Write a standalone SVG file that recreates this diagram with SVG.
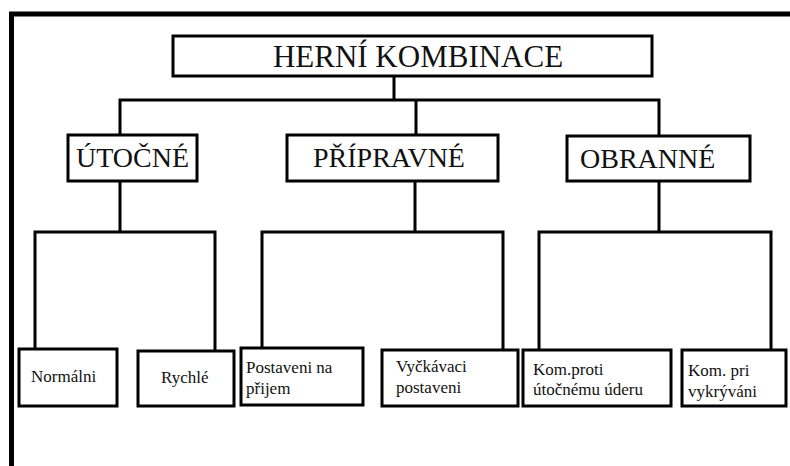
<svg xmlns="http://www.w3.org/2000/svg" width="790" height="466" viewBox="0 0 790 466">
<style>
.box{fill:#fff;stroke:#000;stroke-width:3}
.ln{fill:none;stroke:#000;stroke-width:3;stroke-linecap:square}
</style>
<rect width="790" height="466" fill="#fff"/>
<path d="M11.5 466 V14 H790" fill="none" stroke="#000" stroke-width="5"/>
<g id="connectors">
<path class="ln" d="M394 76 V100 M120 100 H659 M120 100 V135 M416 100 V135 M659 100 V136"/>
<path class="ln" d="M120 181 V232 M35 232 H215 M35 232 V349 M215 232 V351"/>
<path class="ln" d="M415 181 V232 M262 232 H503 M262 232 V348 M503 232 V350"/>
<path class="ln" d="M659 181 V232 M539 232 H771 M539 232 V350 M771 232 V350"/>
</g>
<g font-family="Liberation Serif, serif" fill="#111">
<g id="n-root"><rect class="box" x="173" y="36" width="479" height="40"/><text font-family="Liberation Serif, serif" font-size="31" x="418" y="67" text-anchor="middle">HERNÍ KOMBINACE</text></g>
<g id="n-utocne"><rect class="box" x="68" y="135" width="129" height="46"/><text font-family="Liberation Serif, serif" font-size="28" x="132.5" y="167" text-anchor="middle">ÚTOČNÉ</text></g>
<g id="n-pripravne"><rect class="box" x="287" y="135" width="211" height="46"/><text font-family="Liberation Serif, serif" font-size="28" x="389" y="167" text-anchor="middle">PŘÍPRAVNÉ</text></g>
<g id="n-obranne"><rect class="box" x="567" y="136" width="183" height="45"/><text font-family="Liberation Serif, serif" font-size="28" x="580" y="168">OBRANNÉ</text></g>
<g id="n-normalni"><rect class="box" x="19" y="349" width="98" height="57"/><text font-family="Liberation Serif, serif" font-size="17" x="31" y="382">Normálni</text></g>
<g id="n-rychle"><rect class="box" x="138" y="351" width="96" height="55"/><text font-family="Liberation Serif, serif" font-size="17" x="161" y="383">Rychlé</text></g>
<g id="n-postaveni"><rect class="box" x="241" y="348" width="122" height="57"/><text font-family="Liberation Serif, serif" font-size="17" x="246" y="373">Postaveni na</text><text font-family="Liberation Serif, serif" font-size="17" x="246" y="394">přijem</text></g>
<g id="n-vyckavaci"><rect class="box" x="382" y="350" width="136" height="56"/><text font-family="Liberation Serif, serif" font-size="17" x="396" y="372">Vyčkávaci</text><text font-family="Liberation Serif, serif" font-size="17" x="396" y="393">postaveni</text></g>
<g id="n-komproti"><rect class="box" x="523" y="350" width="148" height="56"/><text font-family="Liberation Serif, serif" font-size="17" x="533" y="375">Kom.proti</text><text font-family="Liberation Serif, serif" font-size="17" x="533" y="395">útočnému úderu</text></g>
<g id="n-kompri"><rect class="box" x="682" y="350" width="104" height="56"/><text font-family="Liberation Serif, serif" font-size="17" x="688" y="376">Kom. pri</text><text font-family="Liberation Serif, serif" font-size="17" x="688" y="397">vykrýváni</text></g>
</g>
</svg>
